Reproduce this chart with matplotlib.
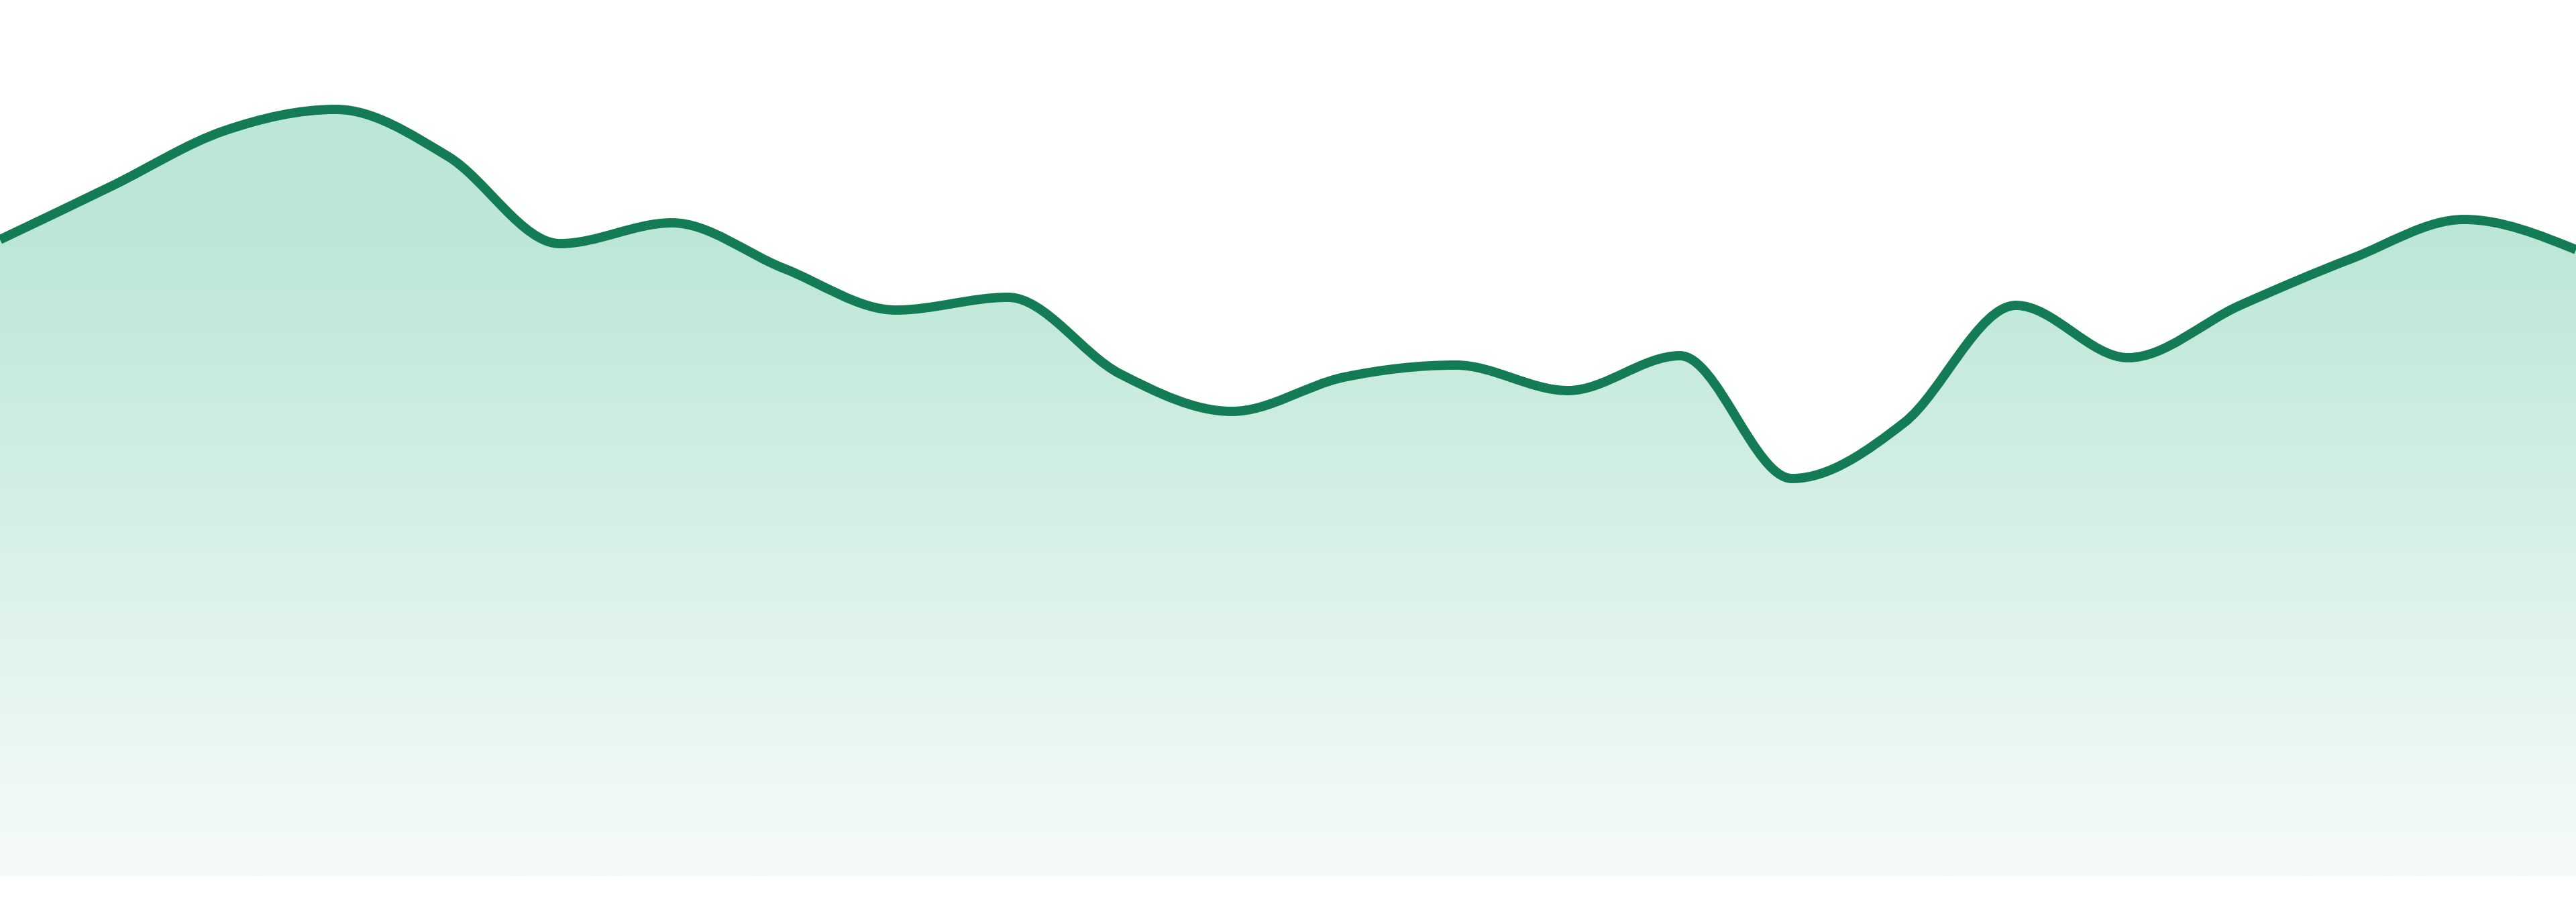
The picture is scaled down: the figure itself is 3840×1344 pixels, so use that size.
import numpy as np
import matplotlib
matplotlib.use("Agg")
import matplotlib.pyplot as plt
from matplotlib.path import Path
from matplotlib.patches import PathPatch
from matplotlib.colors import LinearSegmentedColormap

# series (one point per step)
steps = np.arange(24)
values = [94.8, 102.8, 111.0, 114.2, 107.2, 94.2, 97.3, 90.5,
          84.3, 86.2, 74.8, 69.2, 74.3, 76.1, 72.3, 77.5,
          59.2, 67.5, 85.0, 77.2, 85.0, 92.0, 97.8, 93.3]

LINE_COLOR = '#137c54'
TOP_COLOR = '#bce7d6'
BOTTOM_COLOR = '#f6fbf9'
FADE_TOP = 95.7   # above this the fill keeps the top colour


def monotone_tangents(x, y):
    # same slopes as d3 curveMonotoneX
    x = np.asarray(x, float)
    y = np.asarray(y, float)
    h = np.diff(x)
    s = np.diff(y) / h
    t = np.zeros(len(x))
    for i in range(1, len(x) - 1):
        p = (s[i-1] * h[i] + s[i] * h[i-1]) / (h[i-1] + h[i])
        t[i] = (np.sign(s[i-1]) + np.sign(s[i])) * min(abs(s[i-1]), abs(s[i]), 0.5 * abs(p))
    t[0] = (3 * s[0] - t[1]) / 2
    t[-1] = (3 * s[-1] - t[-2]) / 2
    return t


def curve_path(x, y, close_to=None):
    t = monotone_tangents(x, y)
    verts = [(x[0], y[0])]
    codes = [Path.MOVETO]
    for i in range(len(x) - 1):
        dx = (x[i+1] - x[i]) / 3.0
        verts += [(x[i] + dx, y[i] + dx * t[i]),
                  (x[i+1] - dx, y[i+1] - dx * t[i+1]),
                  (x[i+1], y[i+1])]
        codes += [Path.CURVE4] * 3
    if close_to is not None:
        verts += [(x[-1], close_to), (x[0], close_to), (x[0], close_to)]
        codes += [Path.LINETO, Path.LINETO, Path.CLOSEPOLY]
    return Path(verts, codes)


fig = plt.figure(figsize=(38.4, 13.44), dpi=100, facecolor='w')
ax = fig.add_axes([0, 0, 1, 1])
ax.set_xlim(steps[0], steps[-1])
ax.set_ylim(-3.9, 130.5)
ax.axis('off')

# gradient fill under the line
area = PathPatch(curve_path(steps, values, close_to=0), facecolor='none',
                 edgecolor='none', transform=ax.transData)
ax.add_patch(area)
cmap = LinearSegmentedColormap.from_list('fade', [BOTTOM_COLOR, TOP_COLOR])
ytop = max(values) + 2
grad = np.clip(np.linspace(0, ytop, 512) / FADE_TOP, 0, 1)[:, None]
img = ax.imshow(grad, cmap=cmap, origin='lower', aspect='auto', vmin=0, vmax=1,
                extent=[steps[0], steps[-1], 0, ytop], zorder=1)
img.set_clip_path(area)

# the line
line = PathPatch(curve_path(steps, values), facecolor='none',
                 edgecolor=LINE_COLOR, linewidth=10, zorder=2,
                 capstyle='butt', joinstyle='round')
ax.add_patch(line)

fig.savefig("out.png", dpi=100, facecolor='w')
